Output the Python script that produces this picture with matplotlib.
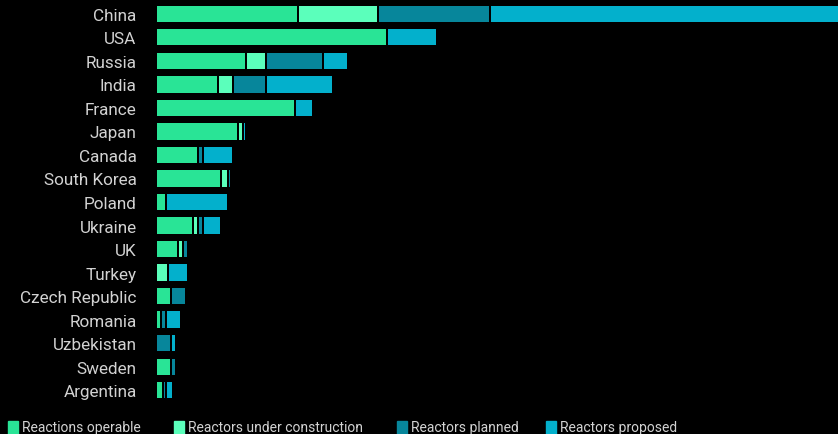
import matplotlib.pyplot as plt
from matplotlib.patches import Rectangle

countries = ["China", "USA", "Russia", "India", "France", "Japan", "Canada",
             "South Korea", "Poland", "Ukraine", "UK", "Turkey", "Czech Republic",
             "Romania", "Uzbekistan", "Sweden", "Argentina"]
operable = [57, 93, 36, 25, 56, 33, 17, 26, 4, 15, 9, 0, 6, 2, 0, 6, 3]
under_construction = [32, 0, 8, 6, 0, 2, 0, 3, 0, 2, 2, 5, 0, 0, 0, 0, 0]
planned = [45, 0, 23, 13, 0, 0, 2, 1, 0, 2, 2, 0, 6, 2, 6, 2, 1]
proposed = [150, 20, 10, 27, 7, 1, 12, 0, 25, 7, 0, 8, 0, 6, 2, 0, 3]

series = [operable, under_construction, planned, proposed]
names = ["Reactions operable", "Reactors under construction",
         "Reactors planned", "Reactors proposed"]
colors = ["#29E496", "#5BFFBB", "#07869B", "#03B0CC"]
textcol = "#d2d2d2"

plt.rcParams['font.family'] = ['Roboto', 'DejaVu Sans']

fig = plt.figure(figsize=(8.38, 4.35), dpi=100, facecolor="black")
ax = fig.add_axes([156 / 838, 32 / 435, 1 - 156 / 838, 400 / 435])
ax.set_facecolor("black")

ypos = list(range(len(countries)))
left = [0] * len(countries)
for vals, col in zip(series, colors):
    ax.barh(ypos, vals, left=left, height=0.78, color=col,
            edgecolor="black", linewidth=1.44)
    left = [l + v for l, v in zip(left, vals)]

ax.set_xlim(0, 274)
ax.set_ylim(len(countries) - 0.5, -0.5)
ax.set_yticks(ypos)
ax.set_yticklabels(countries, color=textcol, fontsize=12.3)
ax.tick_params(axis="y", length=0, pad=14)
ax.set_xticks([])
for s in ax.spines.values():
    s.set_visible(False)

# legend along the bottom edge
leg_x = [8, 174, 397, 546]
for x, name, col in zip(leg_x, names, colors):
    fig.patches.append(Rectangle((x / 838, 0), 10 / 838, 13 / 435,
                                 transform=fig.transFigure, color=col))
    fig.text((x + 14) / 838, 7 / 435, name, color=textcol, fontsize=10,
             va="center", ha="left")

fig.savefig("out.png", dpi=100, facecolor="black")
